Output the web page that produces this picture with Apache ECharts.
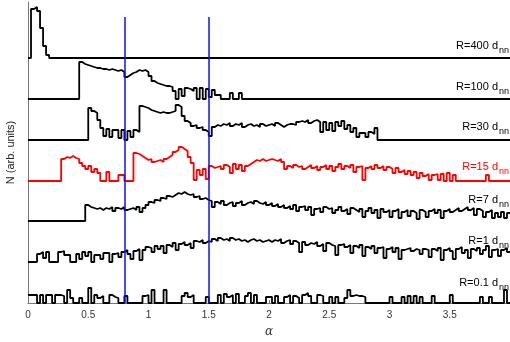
<!DOCTYPE html>
<html>
<head>
<meta charset="utf-8">
<script src="https://cdn.jsdelivr.net/npm/echarts@6/dist/echarts.min.js"></script>
<style>
  html, body { margin: 0; padding: 0; background: #fff; }
  #chart { width: 510px; height: 342px; }
</style>
</head>
<body>
<div id="chart"></div>
<script>
// histogram bins: width 0.025 in alpha, starting at 0
const BIN = 0.025;
const NBINS = 160;
const X_MAX = 4;

// heights above each curve's own baseline (arb. units)
const r400 = [0, 49, 51, 47, 30, 12, 3];
const r100 = [0,0,0,0,0,0,0,0,0,0,0,0,0,0,0,0,0,
  37,35,34,33,32,31,31,30,30,29,30,29,28,29,27,22,24,26,27,29,28,29,27,23,18,16,15,14,13,13,
  12,8,0,10,3,11,10,8,11,0,11,0,10,2,9,4,4,0,0,0,6,0,0,6];
const r30 = [0,0,0,0,0,0,0,0,0,0,0,0,0,0,0,0,0,0,0,0,
  32,29,27,20,12,4,11,3,10,10,
  2,10,0,9,3,10,8,34,33,32,
  30,29,28,27,28,27,27,28,29,35,
  33,24,19,17,14,15,12,13,10,8,
  4,13,15,14,16,15,17,14,16,15,
  17,13,15,16,14,15,13,16,14,15,
  16,14,17,15,13,15,16,16,15,18,
  19,18,20,17,19,20,18,8,18,10,
  17,9,18,14,19,11,15,8,12,3,
  7,7,3,8,6,12];
const r15 = [0,0,0,0,0,0,0,0,0,0,
  0,22,24,23,25,23,22,18,15,12,
  15,9,12,8,0,0,9,0,0,0,
  6,6,0,0,0,28,27,25,23,21,
  22,19,20,21,19,22,24,26,29,31,
  34,32,30,24,18,1,11,6,12,2,
  15,13,14,15,12,16,14,8,17,12,
  16,10,15,17,19,21,20,22,20,21,
  22,21,20,22,19,12,15,13,16,14,
  15,12,14,16,13,15,11,14,16,12,
  15,10,14,17,12,15,13,16,9,14,
  15,1,13,15,12,16,13,15,11,14,
  12,8,13,9,11,7,10,6,9,3,
  8,5,7,1,6,7,1,7,0,8,
  0,6,0,0,0,0,0,0,0,0,
  0,0,6,0,0,0,0,0,0,0];
const r7 = [0,0,0,0,0,0,0,0,0,0,
  0,0,0,0,0,0,0,0,0,16,
  14,13,12,13,11,13,12,14,10,13,
  12,14,11,12,13,11,14,9,13,16,
  19,18,21,20,23,22,25,24,26,28,
  27,29,27,26,27,24,25,22,23,21,
  20,14,19,17,20,16,18,19,15,18,
  20,16,18,19,17,20,18,17,19,16,
  18,15,17,14,16,13,15,12,16,10,
  14,15,11,14,6,12,13,9,14,12,
  13,8,11,14,10,12,7,13,11,9,
  12,4,10,13,8,11,3,12,9,11,
  4,10,12,3,9,11,5,10,8,2,
  11,9,4,10,12,8,11,3,10,12,
  9,11,13,10,12,14,11,13,6,12,
  10,4,9,11,3,8,4,9,3,8];
const r1 = [0,0,0,8,10,4,10,0,0,0,
  10,11,7,7,0,0,8,3,10,6,
  10,0,7,7,3,9,9,0,8,9,
  5,10,12,8,3,11,13,2,12,15,
  14,10,16,13,16,9,17,15,19,12,
  18,20,17,19,14,21,20,22,19,21,
  20,23,21,24,22,23,21,24,22,23,
  21,22,20,22,23,21,22,20,21,22,
  20,22,21,23,19,21,22,18,21,19,
  10,20,17,19,18,20,16,18,11,19,
  17,16,7,17,18,15,17,9,16,14,
  17,6,15,13,16,9,14,15,4,13,
  15,10,14,3,12,13,14,11,13,12,
  8,13,12,5,13,11,14,2,12,14,
  11,3,13,15,9,12,4,13,11,14,
  8,12,16,5,12,13,6,12,14,10];
const r01 = [8,8,8,0,8,0,8,8,0,8,
  8,7,0,13,5,0,0,5,0,0,
  15,0,8,5,7,0,0,8,6,5,
  0,0,7,0,0,0,0,0,7,8,
  0,13,0,0,0,13,0,0,0,0,
  0,7,10,6,8,0,0,0,0,6,
  0,0,0,8,0,9,6,8,0,9,
  0,0,7,10,0,8,0,0,0,6,
  6,0,7,0,0,6,8,0,7,5,
  0,8,10,7,0,0,8,7,0,0,
  6,0,6,0,0,5,13,7,8,7,
  7,6,0,0,0,0,0,0,0,0,
  6,0,0,0,6,0,7,0,7,0,
  6,0,0,0,7,0,0,0,0,0,
  8,0,0,0,0,0,0,0,0,0,
  6,0,0,6,0,0,0,0,13,0];

const curves = [r400, r100, r30, r15, r7, r1, r01];
const names = ['R=400 d', 'R=100 d', 'R=30 d', 'R=15 d', 'R=7 d', 'R=1 d', 'R=0.1 d'];
const offsets = [245, 204, 163, 122, 82, 41, 0];
const colors = ['#000', '#000', '#000', '#f00', '#000', '#000', '#000'];
// label lift above each baseline
const labelLift = [12, 12, 13, 14, 21, 21, 20];

// vertical markers
const markers = [0.8, 1.5];
const markerTop = 286;

function steps(vals, base) {
  const pts = vals.map((v, i) => [+(i * BIN).toFixed(4), base + v]);
  const n = vals.length;
  if (n < NBINS) {
    pts.push([+(n * BIN).toFixed(4), base]);
    pts.push([X_MAX, base]);
  } else {
    pts.push([X_MAX, base + vals[n - 1]]);
  }
  return pts;
}

const FONT = 'Liberation Sans, Arial, sans-serif';
const chart = echarts.init(document.getElementById('chart'), null, { renderer: 'canvas' });

const series = curves.map((c, i) => ({
  name: names[i],
  type: 'line',
  step: 'end',
  symbol: 'none',
  data: steps(c, offsets[i]),
  lineStyle: { color: colors[i], width: 1.8 },
  z: 3
}));
series.push({
  type: 'line',
  data: [],
  z: 4,
  markLine: {
    silent: true,
    symbol: 'none',
    animation: false,
    label: { show: false },
    lineStyle: { color: '#1010ff', width: 1.5, type: 'solid' },
    data: markers.map(m => [{ coord: [m, 0] }, { coord: [m, markerTop] }])
  }
});

chart.setOption({
  animation: false,
  grid: { left: 28, right: 0, top: 2, bottom: 39, outerBoundsMode: 'none', containLabel: false },
  xAxis: {
    type: 'value',
    min: 0,
    max: X_MAX,
    interval: 0.5,
    name: 'α',
    nameLocation: 'middle',
    nameGap: 23,
    nameTextStyle: { fontFamily: 'DejaVu Serif', fontStyle: 'italic', fontSize: 12, color: '#333' },
    axisLine: { lineStyle: { color: '#777', width: 1 } },
    axisTick: { inside: true, length: 3, lineStyle: { color: '#777' } },
    axisLabel: { showMaxLabel: false, fontSize: 10, margin: 7, color: '#333', fontFamily: FONT },
    splitLine: { show: false }
  },
  yAxis: {
    type: 'value',
    min: 0,
    max: 301,
    name: 'N (arb. units)',
    nameLocation: 'middle',
    nameGap: 12,
    nameTextStyle: { fontSize: 11, color: '#222', fontFamily: FONT },
    axisLine: { show: true, lineStyle: { color: '#777', width: 1 } },
    axisTick: { show: false },
    axisLabel: { show: false },
    splitLine: { show: false }
  },
  series: series
});

// right-hand labels with subscript "nn"
const graphics = [];
names.forEach((n, i) => {
  const p = chart.convertToPixel({ gridIndex: 0 }, [X_MAX, offsets[i] + labelLift[i]]);
  graphics.push({
    type: 'text',
    x: p[0] - 12, y: p[1],
    style: { text: n, fill: colors[i], font: '11px ' + FONT, align: 'right', verticalAlign: 'middle' },
    z: 10
  });
  graphics.push({
    type: 'text',
    x: p[0] - 11, y: p[1] + 5,
    style: { text: 'nn', fill: colors[i], font: '9px ' + FONT, align: 'left', verticalAlign: 'middle' },
    z: 10
  });
});
chart.setOption({ graphic: graphics });
</script>
</body>
</html>
